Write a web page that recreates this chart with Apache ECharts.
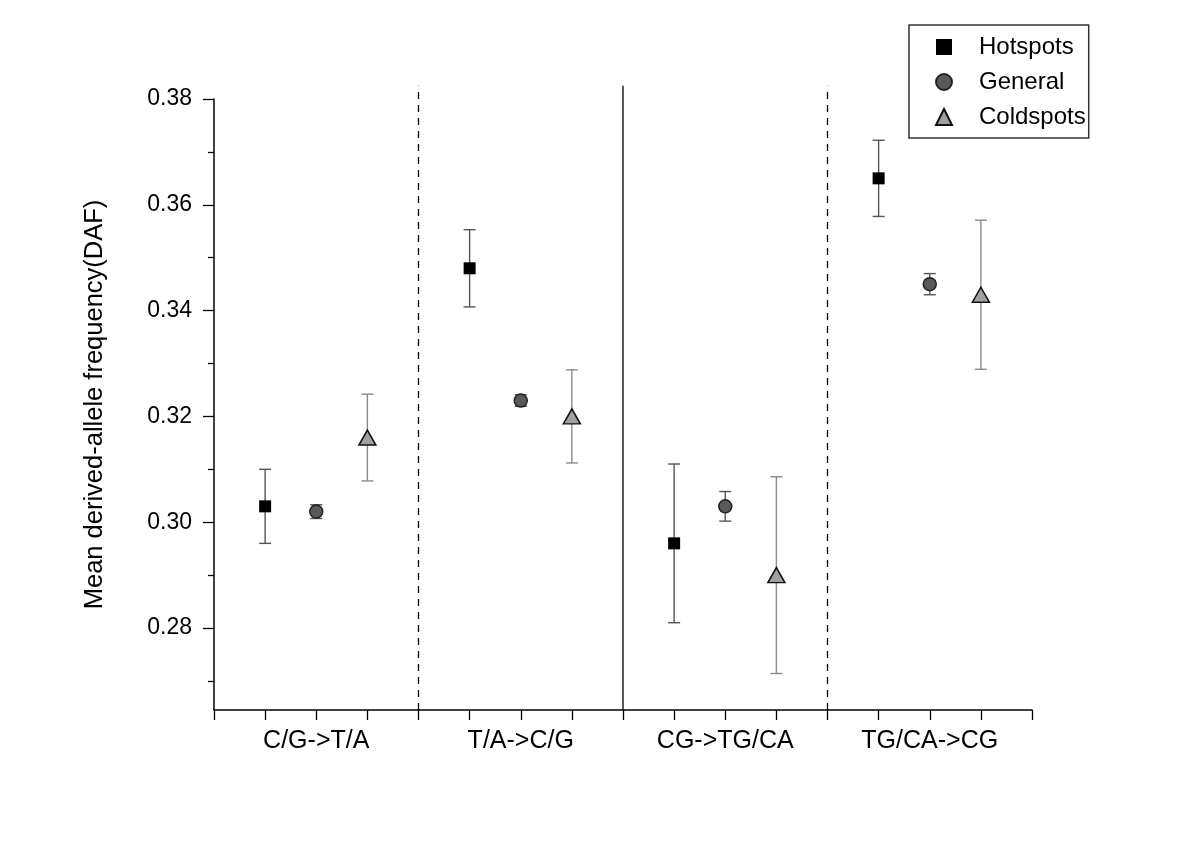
<!DOCTYPE html>
<html>
<head>
<meta charset="utf-8">
<script src="https://cdn.jsdelivr.net/npm/echarts@6/dist/echarts.min.js"></script>
<style>html,body{margin:0;padding:0;background:#fff}#c{width:1200px;height:848px}</style>
</head>
<body>
<div id="c"></div>
<script>
var categories = ['C/G->T/A', 'T/A->C/G', 'CG->TG/CA', 'TG/CA->CG'];
var seriesNames = ['Hotspots', 'General', 'Coldspots'];
var hotMean = [0.303, 0.348, 0.296, 0.365];
var hotErr = [0.0070, 0.0073, 0.0150, 0.0072];
var genMean = [0.302, 0.323, 0.303, 0.345];
var genErr = [0.0013, 0.0011, 0.0028, 0.0020];
var coldMean = [0.316, 0.320, 0.290, 0.343];
var coldErr = [0.0082, 0.0088, 0.0186, 0.0141];
var yTicks = [0.28, 0.30, 0.32, 0.34, 0.36, 0.38];
var yMinorTicks = [0.27, 0.29, 0.31, 0.33, 0.35, 0.37];
var dividerX = [4, 8, 12];
var yMin = 0.2645, yMax = 0.38, dividerTop = 0.3825;

var means = [hotMean, genMean, coldMean];
var errs = [hotErr, genErr, coldErr];

function pos(g, s) { return g * 4 + s + 1; }

var font = 'Liberation Sans, Arial, sans-serif';
var symbols = ['rect', 'circle', 'triangle'];
var sizes = [12, 13, [17, 15]];
var fills = ['#000000', '#5a5a5a', '#a0a0a0'];
var borders = ['#000000', '#222222', '#111111'];
var errColors = ['#555555', '#555555', '#8a8a8a'];

var series = [];
// dividers
series.push({
  type: 'custom',
  silent: true,
  clip: false,
  z: 1,
  data: dividerX.map(function (x) { return [x]; }),
  renderItem: function (params, api) {
    var x = api.value(0);
    var p1 = api.coord([x, yMin]);
    var p2 = api.coord([x, dividerTop]);
    var solid = params.dataIndex === 1;
    return {
      type: 'line',
      shape: { x1: p1[0], y1: p1[1], x2: p2[0], y2: p2[1] },
      style: { stroke: solid ? '#222' : '#000', lineWidth: solid ? 1.5 : 1.3, lineDash: solid ? null : [7, 6] }
    };
  }
});
// error bars
for (var s = 0; s < 3; s++) {
  (function (s) {
    var d = [];
    for (var g = 0; g < 4; g++) d.push([pos(g, s), means[s][g] - errs[s][g], means[s][g] + errs[s][g]]);
    series.push({
      type: 'custom',
      silent: true,
      z: 2,
      data: d,
      renderItem: function (params, api) {
        var x = api.value(0);
        var lo = api.coord([x, api.value(1)]);
        var hi = api.coord([x, api.value(2)]);
        var w = 6;
        var st = { stroke: errColors[s], lineWidth: 1.4 };
        return {
          type: 'group',
          children: [
            { type: 'line', shape: { x1: lo[0], y1: lo[1], x2: hi[0], y2: hi[1] }, style: st },
            { type: 'line', shape: { x1: lo[0] - w, y1: lo[1], x2: lo[0] + w, y2: lo[1] }, style: st },
            { type: 'line', shape: { x1: hi[0] - w, y1: hi[1], x2: hi[0] + w, y2: hi[1] }, style: st }
          ]
        };
      }
    });
  })(s);
}
// markers
for (var s2 = 0; s2 < 3; s2++) {
  var pts = [];
  for (var g2 = 0; g2 < 4; g2++) pts.push([pos(g2, s2), means[s2][g2]]);
  series.push({
    name: seriesNames[s2],
    type: 'scatter',
    z: 5,
    symbol: symbols[s2],
    symbolSize: sizes[s2],
    itemStyle: { color: fills[s2], borderColor: borders[s2], borderWidth: s2 === 0 ? 0 : 1.5, opacity: 1 },
    data: pts
  });
}

var chart = echarts.init(document.getElementById('c'), null, { renderer: 'canvas' });
chart.setOption({
  animation: false,
  backgroundColor: '#ffffff',
  textStyle: { fontFamily: font },
  grid: { left: 214, right: 168, top: 99, bottom: 138, containLabel: false },
  legend: {
    data: seriesNames,
    orient: 'vertical',
    left: 909,
    top: 25,
    padding: [9, 3, 8, 26],
    itemGap: 9,
    itemWidth: 16,
    itemHeight: 16,
    borderColor: '#333',
    borderWidth: 1.5,
    textStyle: { fontSize: 24, lineHeight: 26, color: '#000', fontFamily: font, padding: [0, 0, 0, 22] }
  },
  xAxis: {
    type: 'value',
    min: 0,
    max: 16,
    interval: 1,
    axisLine: { show: true, onZero: false, lineStyle: { color: '#000', width: 1.5 } },
    axisTick: { show: true, length: 10, inside: false, lineStyle: { color: '#000', width: 1.3 } },
    axisLabel: {
      show: true, margin: 19, fontSize: 25, color: '#000', fontFamily: font,
      formatter: function (v) { return (v % 4 === 2) ? categories[(v - 2) / 4] : ''; }
    },
    splitLine: { show: false }
  },
  yAxis: [{
    type: 'value',
    min: yMin,
    max: yMax,
    name: 'Mean derived-allele frequency(DAF)',
    nameLocation: 'middle',
    nameGap: 106,
    nameTextStyle: { fontSize: 25.5, color: '#000', fontFamily: font },
    axisLine: { show: true, lineStyle: { color: '#000', width: 1.5 } },
    axisTick: { show: true, length: 11, customValues: yTicks, lineStyle: { color: '#000', width: 1.3 } },
    axisLabel: { show: true, customValues: yTicks, margin: 22, fontSize: 23, color: '#000', fontFamily: font,
      formatter: function (v) { return v.toFixed(2); } },
    splitLine: { show: false }
  }, {
    type: 'value',
    min: yMin,
    max: yMax,
    position: 'left',
    axisLine: { show: false },
    axisTick: { show: true, length: 6, customValues: yMinorTicks, lineStyle: { color: '#000', width: 1.3 } },
    axisLabel: { show: false },
    splitLine: { show: false }
  }],
  series: series
});
</script>
</body>
</html>
